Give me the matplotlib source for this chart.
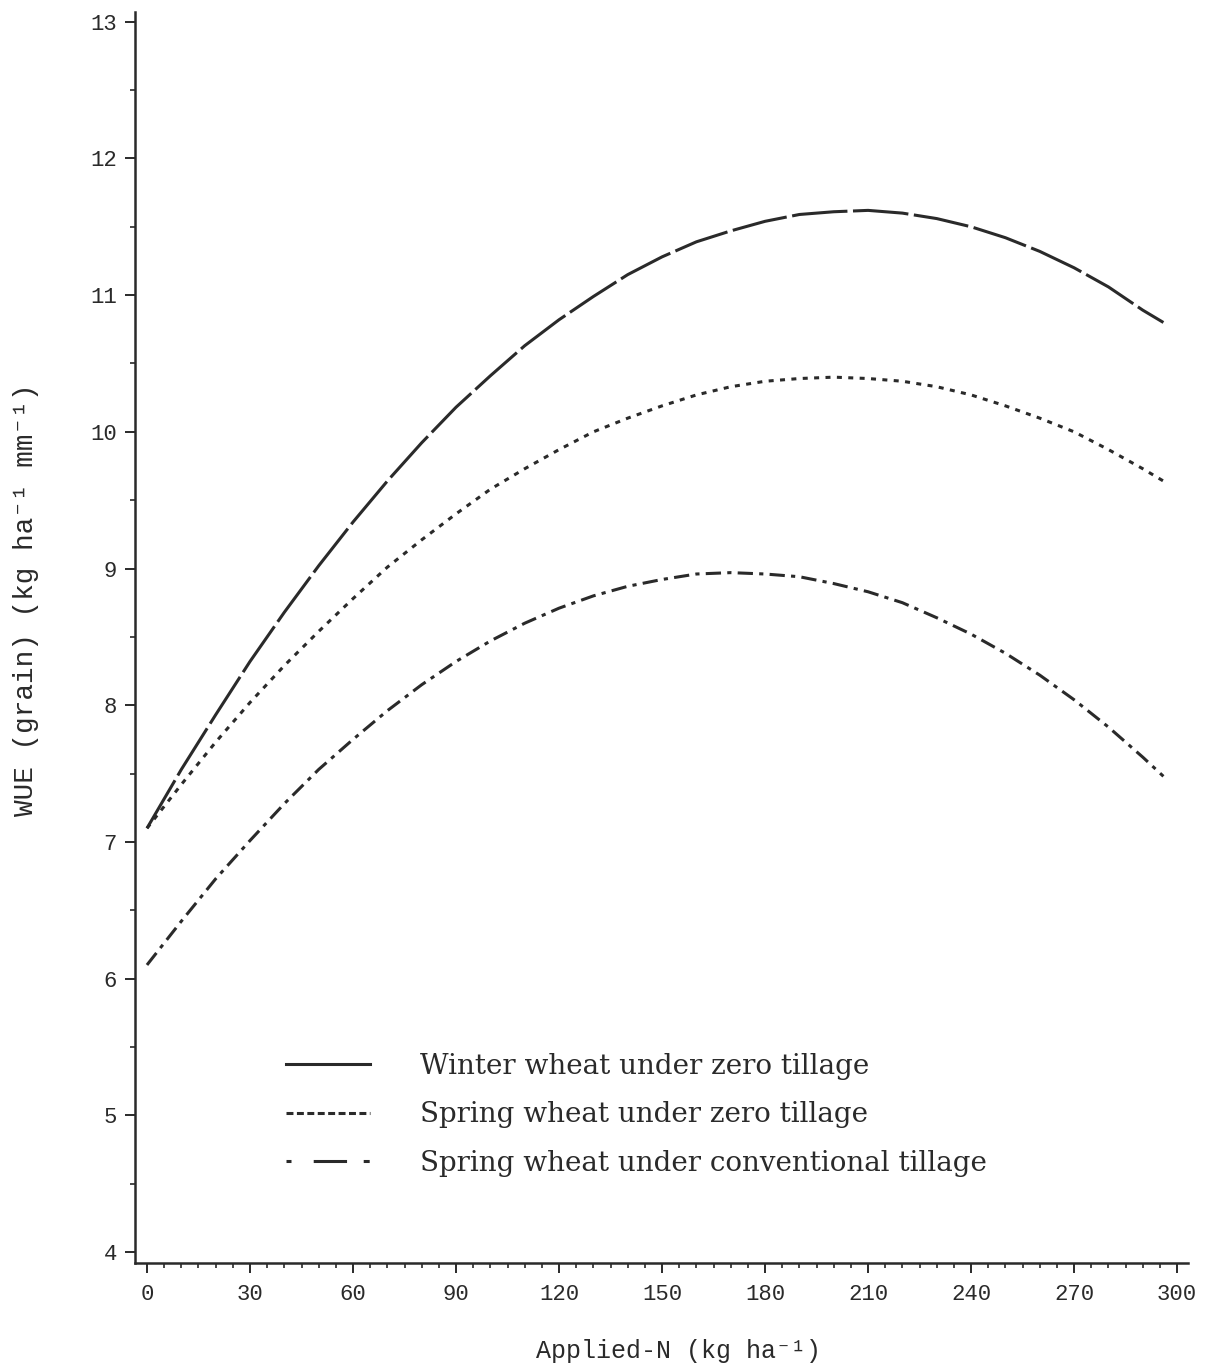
import matplotlib
matplotlib.use("Agg")
import matplotlib.pyplot as plt
from matplotlib.lines import Line2D
from matplotlib.ticker import MultipleLocator

plt.rcParams['lines.scale_dashes'] = False

# ---- data ----
applied_n = [0, 10, 20, 30, 40, 50, 60, 70, 80, 90, 100, 110, 120, 130, 140,
             150, 160, 170, 180, 190, 200, 210, 220, 230, 240, 250, 260, 270,
             280, 290, 296]
winter_zero = [7.10, 7.53, 7.93, 8.32, 8.68, 9.02, 9.34, 9.64, 9.92, 10.18,
               10.41, 10.63, 10.82, 10.99, 11.15, 11.28, 11.39, 11.47, 11.54,
               11.59, 11.61, 11.62, 11.60, 11.56, 11.50, 11.42, 11.32, 11.20,
               11.06, 10.89, 10.80]
spring_zero = [7.10, 7.42, 7.73, 8.02, 8.29, 8.54, 8.78, 9.01, 9.21, 9.40,
               9.58, 9.73, 9.87, 10.00, 10.10, 10.19, 10.27, 10.33, 10.37,
               10.39, 10.40, 10.39, 10.37, 10.33, 10.27, 10.19, 10.10, 10.00,
               9.87, 9.73, 9.64]
spring_conv = [6.10, 6.42, 6.73, 7.01, 7.28, 7.53, 7.75, 7.96, 8.15, 8.32,
               8.47, 8.60, 8.71, 8.80, 8.87, 8.92, 8.96, 8.97, 8.96, 8.94,
               8.89, 8.83, 8.75, 8.64, 8.52, 8.38, 8.22, 8.04, 7.84, 7.62, 7.48]

labels = ["Winter wheat under zero tillage",
          "Spring wheat under zero tillage",
          "Spring wheat under conventional tillage"]
x_ticks = [0, 30, 60, 90, 120, 150, 180, 210, 240, 270, 300]
y_ticks = [4, 5, 6, 7, 8, 9, 10, 11, 12, 13]

ink = "#2a2a2a"
mono = ["Liberation Mono", "DejaVu Sans Mono"]

fig = plt.figure(figsize=(12.05, 13.67), dpi=100)
ax = fig.add_axes([0.112, 0.0761, 0.874, 0.915])

ax.plot(applied_n, winter_zero, color=ink, lw=2.2, dashes=(40, 4))
ax.plot(applied_n, spring_zero, color=ink, lw=2.2, dashes=(3.6, 4.6))
ax.plot(applied_n, spring_conv, color=ink, lw=2.2, dashes=(11, 4.5, 3, 4.5))

ax.set_xlim(-3.5, 303.2)
ax.set_ylim(3.92, 13.07)

ax.spines['top'].set_visible(False)
ax.spines['right'].set_visible(False)
for s in ('left', 'bottom'):
    ax.spines[s].set_linewidth(1.8)
    ax.spines[s].set_color(ink)

ax.set_xticks(x_ticks)
ax.set_xticklabels([str(v) for v in x_ticks])
ax.set_yticks(y_ticks)
ax.set_yticklabels([str(v) for v in y_ticks])
ax.xaxis.set_minor_locator(MultipleLocator(5))
ax.yaxis.set_minor_locator(MultipleLocator(0.5))
ax.tick_params(axis='both', which='major', direction='out', length=7,
               width=1.4, color=ink, labelcolor=ink)
ax.tick_params(axis='both', which='minor', direction='out', length=3.5,
               width=1.2, color=ink)
ax.tick_params(axis='x', which='major', pad=8)
ax.tick_params(axis='y', which='major', pad=6)
for lab in ax.get_xticklabels() + ax.get_yticklabels():
    lab.set_family(mono)
    lab.set_fontsize(16)

ax.set_xlabel("Applied-N (kg ha\u207b\u00b9)", family=mono, fontsize=18,
              color=ink)
ax.xaxis.set_label_coords(0.516, -0.061)
ax.set_ylabel("WUE (grain) (kg ha\u207b\u00b9 mm\u207b\u00b9)", family=mono,
              fontsize=20, color=ink)
ax.yaxis.set_label_coords(-0.091, 0.530)

handles = [
    Line2D([], [], color=ink, lw=2.2),
    Line2D([], [], color=ink, lw=2.2, dashes=(5, 2.5)),
    Line2D([], [], color=ink, lw=2.2, dashes=(3.6, 16, 24, 12, 4.3, 60)),
]
leg = ax.legend(handles, labels, loc='upper left',
                bbox_to_anchor=(0.12, 0.188), frameon=False,
                prop={'family': 'DejaVu Serif', 'size': 20},
                handlelength=3.0, handletextpad=1.8, labelspacing=0.78)
for t in leg.get_texts():
    t.set_color(ink)

fig.savefig("out.png", dpi=100, facecolor="white")
